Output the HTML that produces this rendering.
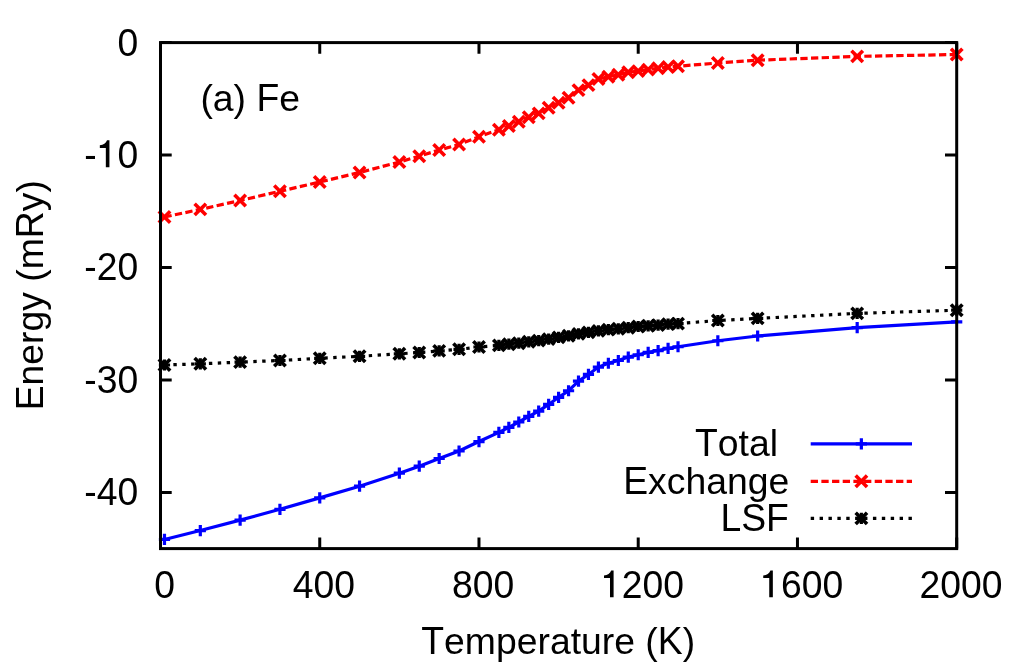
<!DOCTYPE html><html><head><meta charset="utf-8"><title>chart</title><style>html,body{margin:0;padding:0;background:#fff}svg{display:block;will-change:transform}text{font-family:"Liberation Sans",sans-serif;font-size:37.33px;fill:#000;font-kerning:none}</style></head><body>
<svg width="1024" height="668" viewBox="0 0 1024 668">
<rect width="1024" height="668" fill="#fff"/>
<g fill="none" stroke-linecap="butt" stroke-linejoin="miter">
<polyline points="164.48,539.45 200.31,530.55 240.12,520.15 279.93,509.30 319.74,497.85 359.55,486.22 399.36,473.22 419.26,466.20 439.17,458.52 459.07,450.98 478.98,441.57 498.88,432.40 508.84,427.30 518.79,422.00 528.74,416.40 538.69,411.15 548.65,404.45 558.60,397.30 568.55,390.75 578.50,381.15 588.46,374.45 598.41,367.05 608.36,363.25 618.32,360.50 628.27,357.10 638.22,354.75 648.17,352.40 658.12,350.55 668.08,348.35 678.03,346.75 717.84,340.75 757.65,336.00 857.18,327.60 956.70,321.80" stroke="#0000ff" stroke-width="3.2"/>
<path d="M158.88 539.45H170.08M164.48 533.85V545.05M194.71 530.55H205.91M200.31 524.95V536.15M234.52 520.15H245.72M240.12 514.55V525.75M274.33 509.30H285.53M279.93 503.70V514.90M314.14 497.85H325.34M319.74 492.25V503.45M353.95 486.22H365.15M359.55 480.62V491.82M393.76 473.22H404.96M399.36 467.62V478.82M413.66 466.20H424.87M419.26 460.60V471.80M433.57 458.52H444.77M439.17 452.92V464.12M453.47 450.98H464.68M459.07 445.38V456.58M473.38 441.57H484.58M478.98 435.97V447.18M493.28 432.40H504.49M498.88 426.80V438.00M503.24 427.30H514.44M508.84 421.70V432.90M513.19 422.00H524.39M518.79 416.40V427.60M523.14 416.40H534.34M528.74 410.80V422.00M533.09 411.15H544.29M538.69 405.55V416.75M543.05 404.45H554.25M548.65 398.85V410.05M553.00 397.30H564.20M558.60 391.70V402.90M562.95 390.75H574.15M568.55 385.15V396.35M572.90 381.15H584.11M578.50 375.55V386.75M582.86 374.45H594.06M588.46 368.85V380.05M592.81 367.05H604.01M598.41 361.45V372.65M602.76 363.25H613.96M608.36 357.65V368.85M612.72 360.50H623.92M618.32 354.90V366.10M622.67 357.10H633.87M628.27 351.50V362.70M632.62 354.75H643.82M638.22 349.15V360.35M642.57 352.40H653.77M648.17 346.80V358.00M652.52 350.55H663.73M658.12 344.95V356.15M662.48 348.35H673.68M668.08 342.75V353.95M672.43 346.75H683.63M678.03 341.15V352.35M712.24 340.75H723.44M717.84 335.15V346.35M752.05 336.00H763.25M757.65 330.40V341.60M851.58 327.60H862.78M857.18 322.00V333.20M951.10 321.80H962.30" stroke="#0000ff" stroke-width="3.2"/>
<polyline points="164.48,217.00 200.31,209.40 240.12,200.50 279.93,191.30 319.74,182.00 359.55,172.50 399.36,162.00 419.26,156.25 439.17,150.00 459.07,144.50 478.98,136.75 498.88,129.70 508.84,126.00 518.79,121.80 528.74,117.20 538.69,113.40 548.65,107.70 558.60,102.70 568.55,97.70 578.50,90.10 588.46,85.10 598.41,79.00 608.36,76.70 618.32,74.80 628.27,72.30 638.22,71.10 648.17,69.60 658.12,68.30 668.08,67.00 678.03,66.20 717.84,63.00 757.65,60.20 857.18,56.40 956.70,54.50" stroke="#ff0000" stroke-width="3.2" stroke-dasharray="7.3 3.368"/>
<path d="M158.78 211.30L170.18 222.70M158.78 222.70L170.18 211.30M194.61 203.70L206.01 215.10M194.61 215.10L206.01 203.70M234.42 194.80L245.82 206.20M234.42 206.20L245.82 194.80M274.23 185.60L285.63 197.00M274.23 197.00L285.63 185.60M314.04 176.30L325.44 187.70M314.04 187.70L325.44 176.30M353.85 166.80L365.25 178.20M353.85 178.20L365.25 166.80M393.66 156.30L405.06 167.70M393.66 167.70L405.06 156.30M413.56 150.55L424.96 161.95M413.56 161.95L424.96 150.55M433.47 144.30L444.87 155.70M433.47 155.70L444.87 144.30M453.38 138.80L464.77 150.20M453.38 150.20L464.77 138.80M473.28 131.05L484.68 142.45M473.28 142.45L484.68 131.05M493.19 124.00L504.58 135.40M493.19 135.40L504.58 124.00M503.14 120.30L514.54 131.70M503.14 131.70L514.54 120.30M513.09 116.10L524.49 127.50M513.09 127.50L524.49 116.10M523.04 111.50L534.44 122.90M523.04 122.90L534.44 111.50M532.99 107.70L544.39 119.10M532.99 119.10L544.39 107.70M542.95 102.00L554.35 113.40M542.95 113.40L554.35 102.00M552.90 97.00L564.30 108.40M552.90 108.40L564.30 97.00M562.85 92.00L574.25 103.40M562.85 103.40L574.25 92.00M572.80 84.40L584.21 95.80M572.80 95.80L584.21 84.40M582.76 79.40L594.16 90.80M582.76 90.80L594.16 79.40M592.71 73.30L604.11 84.70M592.71 84.70L604.11 73.30M602.66 71.00L614.06 82.40M602.66 82.40L614.06 71.00M612.62 69.10L624.02 80.50M612.62 80.50L624.02 69.10M622.57 66.60L633.97 78.00M622.57 78.00L633.97 66.60M632.52 65.40L643.92 76.80M632.52 76.80L643.92 65.40M642.47 63.90L653.87 75.30M642.47 75.30L653.87 63.90M652.42 62.60L663.83 74.00M652.42 74.00L663.83 62.60M662.38 61.30L673.78 72.70M662.38 72.70L673.78 61.30M672.33 60.50L683.73 71.90M672.33 71.90L683.73 60.50M712.14 57.30L723.54 68.70M712.14 68.70L723.54 57.30M751.95 54.50L763.35 65.90M751.95 65.90L763.35 54.50M851.48 50.70L862.88 62.10M851.48 62.10L862.88 50.70M951.00 48.80L962.40 60.20M951.00 60.20L962.40 48.80" stroke="#ff0000" stroke-width="3.6"/>
<polyline points="164.48,365.00 200.31,363.80 240.12,362.10 279.93,360.50 319.74,358.30 359.55,356.30 399.36,353.80 419.26,352.50 439.17,350.90 459.07,349.30 478.98,347.00 498.88,345.40 508.84,344.20 518.79,343.20 528.74,341.80 538.69,340.60 548.65,339.10 558.60,337.40 568.55,335.80 578.50,333.90 588.46,332.40 598.41,330.90 608.36,329.60 618.32,328.80 628.27,327.70 638.22,326.50 648.17,325.80 658.12,325.10 668.08,324.10 678.03,323.60 717.84,320.50 757.65,318.40 857.18,313.40 956.70,310.20" stroke="#000000" stroke-width="3.2" stroke-dasharray="3.4 5.49"/>
<path d="M158.88 365.00H170.08M164.48 359.40V370.60M194.71 363.80H205.91M200.31 358.20V369.40M234.52 362.10H245.72M240.12 356.50V367.70M274.33 360.50H285.53M279.93 354.90V366.10M314.14 358.30H325.34M319.74 352.70V363.90M353.95 356.30H365.15M359.55 350.70V361.90M393.76 353.80H404.96M399.36 348.20V359.40M413.66 352.50H424.87M419.26 346.90V358.10M433.57 350.90H444.77M439.17 345.30V356.50M453.47 349.30H464.68M459.07 343.70V354.90M473.38 347.00H484.58M478.98 341.40V352.60M493.28 345.40H504.49M498.88 339.80V351.00M503.24 344.20H514.44M508.84 338.60V349.80M513.19 343.20H524.39M518.79 337.60V348.80M523.14 341.80H534.34M528.74 336.20V347.40M533.09 340.60H544.29M538.69 335.00V346.20M543.05 339.10H554.25M548.65 333.50V344.70M553.00 337.40H564.20M558.60 331.80V343.00M562.95 335.80H574.15M568.55 330.20V341.40M572.90 333.90H584.11M578.50 328.30V339.50M582.86 332.40H594.06M588.46 326.80V338.00M592.81 330.90H604.01M598.41 325.30V336.50M602.76 329.60H613.96M608.36 324.00V335.20M612.72 328.80H623.92M618.32 323.20V334.40M622.67 327.70H633.87M628.27 322.10V333.30M632.62 326.50H643.82M638.22 320.90V332.10M642.57 325.80H653.77M648.17 320.20V331.40M652.52 325.10H663.73M658.12 319.50V330.70M662.48 324.10H673.68M668.08 318.50V329.70M672.43 323.60H683.63M678.03 318.00V329.20M712.24 320.50H723.44M717.84 314.90V326.10M752.05 318.40H763.25M757.65 312.80V324.00M851.58 313.40H862.78M857.18 307.80V319.00M951.10 310.20H962.30M956.70 304.60V315.80" stroke="#000000" stroke-width="3.2"/><path d="M158.78 359.30L170.18 370.70M158.78 370.70L170.18 359.30M194.61 358.10L206.01 369.50M194.61 369.50L206.01 358.10M234.42 356.40L245.82 367.80M234.42 367.80L245.82 356.40M274.23 354.80L285.63 366.20M274.23 366.20L285.63 354.80M314.04 352.60L325.44 364.00M314.04 364.00L325.44 352.60M353.85 350.60L365.25 362.00M353.85 362.00L365.25 350.60M393.66 348.10L405.06 359.50M393.66 359.50L405.06 348.10M413.56 346.80L424.96 358.20M413.56 358.20L424.96 346.80M433.47 345.20L444.87 356.60M433.47 356.60L444.87 345.20M453.38 343.60L464.77 355.00M453.38 355.00L464.77 343.60M473.28 341.30L484.68 352.70M473.28 352.70L484.68 341.30M493.19 339.70L504.58 351.10M493.19 351.10L504.58 339.70M503.14 338.50L514.54 349.90M503.14 349.90L514.54 338.50M513.09 337.50L524.49 348.90M513.09 348.90L524.49 337.50M523.04 336.10L534.44 347.50M523.04 347.50L534.44 336.10M532.99 334.90L544.39 346.30M532.99 346.30L544.39 334.90M542.95 333.40L554.35 344.80M542.95 344.80L554.35 333.40M552.90 331.70L564.30 343.10M552.90 343.10L564.30 331.70M562.85 330.10L574.25 341.50M562.85 341.50L574.25 330.10M572.80 328.20L584.21 339.60M572.80 339.60L584.21 328.20M582.76 326.70L594.16 338.10M582.76 338.10L594.16 326.70M592.71 325.20L604.11 336.60M592.71 336.60L604.11 325.20M602.66 323.90L614.06 335.30M602.66 335.30L614.06 323.90M612.62 323.10L624.02 334.50M612.62 334.50L624.02 323.10M622.57 322.00L633.97 333.40M622.57 333.40L633.97 322.00M632.52 320.80L643.92 332.20M632.52 332.20L643.92 320.80M642.47 320.10L653.87 331.50M642.47 331.50L653.87 320.10M652.42 319.40L663.83 330.80M652.42 330.80L663.83 319.40M662.38 318.40L673.78 329.80M662.38 329.80L673.78 318.40M672.33 317.90L683.73 329.30M672.33 329.30L683.73 317.90M712.14 314.80L723.54 326.20M712.14 326.20L723.54 314.80M751.95 312.70L763.35 324.10M751.95 324.10L763.35 312.70M851.48 307.70L862.88 319.10M851.48 319.10L862.88 307.70M951.00 304.50L962.40 315.90M951.00 315.90L962.40 304.50" stroke="#000000" stroke-width="3.6"/>
<path d="M810.70 443.90H912.00" stroke="#0000ff" stroke-width="3.2"/>
<path d="M855.75 443.90H866.95M861.35 438.30V449.50" stroke="#0000ff" stroke-width="3.2"/>
<path d="M810.70 481.30H912.00" stroke="#ff0000" stroke-width="3.2" stroke-dasharray="7.3 3.368"/>
<path d="M855.65 475.60L867.05 487.00M855.65 487.00L867.05 475.60" stroke="#ff0000" stroke-width="3.6"/>
<path d="M810.70 518.40H912.00" stroke="#000000" stroke-width="3.2" stroke-dasharray="3.4 5.49"/>
<path d="M855.75 518.40H866.95M861.35 512.80V524.00" stroke="#000000" stroke-width="3.2"/><path d="M855.65 512.70L867.05 524.10M855.65 524.10L867.05 512.70" stroke="#000000" stroke-width="3.6"/>
<path d="M160.50 548.60V537.40M160.50 42.60V53.80M319.74 548.60V537.40M319.74 42.60V53.80M478.98 548.60V537.40M478.98 42.60V53.80M638.22 548.60V537.40M638.22 42.60V53.80M797.46 548.60V537.40M797.46 42.60V53.80M956.70 548.60V537.40M956.70 42.60V53.80M160.50 42.60H171.70M956.70 42.60H945.00M160.50 155.04H171.70M956.70 155.04H945.00M160.50 267.49H171.70M956.70 267.49H945.00M160.50 379.93H171.70M956.70 379.93H945.00M160.50 492.38H171.70M956.70 492.38H945.00" stroke="#000" stroke-width="3.0"/>
<rect x="160.50" y="42.60" width="796.20" height="506.00" stroke="#000" stroke-width="3.0"/>
</g>
<g transform="translate(138.25 55.60)"><text transform="translate(-20.76 0) scale(1 1.045)">0</text></g>
<g transform="translate(138.25 168.04)"><text transform="translate(-53.95 0) scale(1 1.045)">-</text><path transform="translate(-41.52 0)" d="M12.7 -0.9H9.1V-20.1H3.1V-22.8Q8.6 -23.3 10.3 -27.7H12.7Z" fill="#000"/><text transform="translate(-20.76 0) scale(1 1.045)">0</text></g>
<g transform="translate(138.25 280.49)"><text transform="translate(-53.95 0) scale(1 1.045)">-20</text></g>
<g transform="translate(138.25 392.93)"><text transform="translate(-53.95 0) scale(1 1.045)">-30</text></g>
<g transform="translate(138.25 505.38)"><text transform="translate(-53.95 0) scale(1 1.045)">-40</text></g>
<g transform="translate(164.70 598.20)"><text transform="translate(-10.38 0) scale(1 1.045)">0</text></g>
<g transform="translate(323.94 598.20)"><text transform="translate(-31.14 0) scale(1 1.045)">400</text></g>
<g transform="translate(483.18 598.20)"><text transform="translate(-31.14 0) scale(1 1.045)">800</text></g>
<g transform="translate(642.42 598.20)"><path transform="translate(-41.52 0)" d="M12.7 -0.9H9.1V-20.1H3.1V-22.8Q8.6 -23.3 10.3 -27.7H12.7Z" fill="#000"/><text transform="translate(-20.76 0) scale(1 1.045)">200</text></g>
<g transform="translate(801.66 598.20)"><path transform="translate(-41.52 0)" d="M12.7 -0.9H9.1V-20.1H3.1V-22.8Q8.6 -23.3 10.3 -27.7H12.7Z" fill="#000"/><text transform="translate(-20.76 0) scale(1 1.045)">600</text></g>
<g transform="translate(960.90 598.20)"><text transform="translate(-41.52 0) scale(1 1.045)">2000</text></g>
<g transform="translate(200.40 111.00)"><text x="0.00" y="0">(a)&#160;</text><text transform="translate(55.99 0) scale(1 1.045)">F</text><text x="78.80" y="0">e</text></g>
<g transform="translate(558.20 654.00)"><text transform="translate(-136.92 0) scale(1 1.045)">T</text><text x="-114.11" y="0">emperature&#160;(</text><text transform="translate(99.59 0) scale(1 1.045)">K</text><text x="124.48" y="0">)</text></g>
<g transform="translate(42.80 295.20) rotate(-90)"><text transform="translate(-115.12 0) scale(1 1.045)">E</text><text x="-90.22" y="0">nergy&#160;(m</text><text transform="translate(57.06 0) scale(1 1.045)">R</text><text x="84.02" y="0">y)</text></g>
<g transform="translate(778.00 456.40)"><text transform="translate(-82.99 0) scale(1 1.045)">T</text><text x="-60.19" y="0">otal</text></g>
<g transform="translate(789.20 493.70)"><text transform="translate(-166.03 0) scale(1 1.045)">E</text><text x="-141.14" y="0">xchange</text></g>
<g transform="translate(788.85 530.95)"><text transform="translate(-68.46 0) scale(1 1.045)">LSF</text></g>
</svg></body></html>
